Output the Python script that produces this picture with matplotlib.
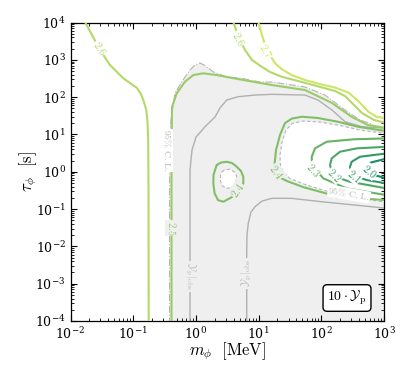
import matplotlib
matplotlib.use("Agg")
import matplotlib.pyplot as plt
import numpy as np
from matplotlib.ticker import LogLocator, NullFormatter

plt.rcParams["mathtext.fontset"] = "cm"
plt.rcParams["font.family"] = "serif"
plt.rcParams["font.serif"] = ["DejaVu Serif"]

# ---- digitised curves, stored as log10(m_phi / MeV), log10(tau_phi / s) ----
# contour 2.6, left branch
c26_left_lx = [-1.78, -1.657, -1.530, -1.370, -1.163, -1.051, -0.939, -0.876, -0.828, -0.791, -0.772,
               -0.761, -0.756, -0.753]
c26_left_ly = [4.05, 3.665, 3.263, 2.861, 2.512, 2.378, 2.244, 2.083, 1.869, 1.654, 1.332,
               0.850, -0.410, -4.1]

# contour 2.6, right branch
c26_right_lx = [0.59, 0.676, 0.783, 0.895, 1.049, 1.182, 1.368, 1.628, 1.900, 2.219, 2.378, 2.490, 2.649, 2.840, 3.05]
c26_right_ly = [4.05, 3.619, 3.263, 2.995, 2.815, 2.673, 2.547, 2.432, 2.311, 2.164, 2.029, 1.842, 1.574, 1.386, 1.30]

# contour 2.7
c27_lx = [0.99, 1.054, 1.129, 1.262, 1.389, 1.528, 1.740, 2.006, 2.219, 2.431, 2.590, 2.750, 2.872, 3.05]
c27_ly = [4.05, 3.665, 3.263, 2.906, 2.727, 2.592, 2.458, 2.338, 2.257, 2.123, 1.895, 1.609, 1.480, 1.42]

# contour 2.5
c25_lx = [-0.389, -0.389, -0.381, -0.306, -0.174, -0.041, 0.118, 0.332, 0.756, 1.214, 1.740, 2.171, 2.490, 2.745, 3.05]
c25_ly = [-4.1, 0.662, 1.734, 2.102, 2.413, 2.592, 2.638, 2.592, 2.458, 2.324, 2.190, 1.842, 1.466, 1.252, 1.165]

# contour 2.4, right branch
c24_lx = [3.05, 2.585, 2.266, 1.947, 1.692, 1.533, 1.421, 1.341, 1.278, 1.254, 1.275, 1.357, 1.453, 1.708, 2.250, 3.05]
c24_ly = [1.085, 1.206, 1.340, 1.440, 1.475, 1.426, 1.306, 0.984, 0.582, 0.180, -0.05, -0.169, -0.249, -0.410, -0.660, -0.765]

# contour 2.4, island
c24_isl_lx = [0.332, 0.400, 0.491, 0.576, 0.651, 0.719, 0.756, 0.756, 0.690, 0.576, 0.437, 0.352, 0.297, 0.278, 0.281, 0.305, 0.332]
c24_isl_ly = [0.180, 0.247, 0.268, 0.233, 0.134, 0.019, -0.134, -0.311, -0.520, -0.678, -0.804, -0.759, -0.571, -0.311, -0.088, 0.046, 0.180]

# contours 2.3 .. 2.0
c23_lx = [3.05, 2.510, 2.086, 1.900, 1.847, 1.852, 1.930, 2.032, 2.405, 3.05]
c23_ly = [0.895, 0.869, 0.804, 0.627, 0.402, 0.233, 0.02, -0.177, -0.445, -0.630]
c22_lx = [3.05, 2.565, 2.298, 2.166, 2.139, 2.170, 2.300, 2.458, 3.05]
c22_ly = [0.670, 0.627, 0.536, 0.359, 0.180, -0.02, -0.180, -0.268, -0.450]
c21_lx = [3.05, 2.617, 2.485, 2.458, 2.480, 2.600, 2.724, 3.05]
c21_ly = [0.493, 0.402, 0.268, 0.134, -0.02, -0.150, -0.223, -0.315]
c20_lx = [3.05, 2.777, 2.724, 2.740, 2.872, 3.05]
c20_ly = [0.359, 0.241, 0.134, 0.0, -0.102, -0.180]

# 95% C.L. excluded region (shaded) and its two allowed holes
cl_lx = [-0.421, -0.421, -0.397, -0.333, -0.206, -0.094, -0.014, 0.065, 0.129, 0.273, 0.496,
         0.703, 1.022, 1.214, 1.740, 2.059, 2.378, 2.617, 2.809, 3.05, 3.05, -0.421]
cl_ly = [-4.1, 0.850, 1.386, 2.110, 2.458, 2.727, 2.861, 2.914, 2.861, 2.681, 2.539,
         2.512, 2.405, 2.405, 2.271, 2.056, 1.654, 1.386, 1.279, 1.215, -4.1, -4.1]

hole_right_lx = [3.05, 2.617, 2.298, 1.979, 1.708, 1.533, 1.437, 1.373, 1.341, 1.349, 1.405,
                 1.501, 1.767, 2.139, 2.537, 3.05]
hole_right_ly = [1.020, 1.118, 1.239, 1.332, 1.359, 1.292, 1.118, 0.796, 0.448, 0.153, -0.035,
                 -0.182, -0.357, -0.544, -0.705, -0.815]

hole_isl_lx = [0.414, 0.464, 0.544, 0.616, 0.651, 0.640, 0.592, 0.504, 0.424, 0.392, 0.392, 0.414]
hole_isl_ly = [0.0, 0.059, 0.064, -0.008, -0.115, -0.276, -0.397, -0.445, -0.383, -0.249, -0.088, 0.0]

# observed Y_p lines
yobs_a_lx = [-0.094, -0.094, -0.062, 0.002, 0.145, 0.305, 0.384, 0.491, 0.671, 0.943, 1.214,
             1.740, 1.947, 2.171, 2.378, 2.649, 3.05]
yobs_a_ly = [-4.1, 0.046, 0.582, 0.930, 1.206, 1.466, 1.708, 1.922, 2.011, 2.056, 2.075,
             2.056, 1.922, 1.654, 1.340, 1.206, 1.165]
yobs_b_lx = [0.810, 0.810, 0.815, 0.836, 0.879, 0.943, 1.054, 1.209, 1.528, 2.006, 2.537, 3.05]
yobs_b_ly = [-4.1, -2.180, -1.697, -1.375, -1.080, -0.938, -0.786, -0.713, -0.713, -0.804, -0.893, -0.980]

# contour labels: (text, lx, ly, rotation, level)
labels = [
    ("2.6", -1.530, 3.316, -58, 2.6),
    ("2.6", 0.687, 3.571, -62, 2.6),
    ("2.7", 1.118, 3.236, -60, 2.7),
    ("2.5", -0.389, -1.509, 270, 2.5),
    ("2.4", 0.656, -0.491, 55, 2.4),
    ("2.4", 1.285, -0.008, -55, 2.4),
    ("2.3", 1.872, 0.046, -50, 2.3),
    ("2.2", 2.218, -0.088, -45, 2.2),
    ("2.1", 2.522, -0.115, -40, 2.1),
    ("2.0", 2.777, 0.019, -40, 2.0),
]

shade = "#efefef"
edge_gray = "#b5b5b5"


def lvl_color(level):
    return plt.cm.summer(level - 2.0 + 0.1)


def pw(a):
    return 10 ** np.asarray(a)


fig = plt.figure(figsize=(4.11, 3.77), dpi=100)
ax = fig.add_axes([70.5 / 411, 56 / 377, 313.5 / 411, 298.5 / 377])

# shaded 95% C.L. region with its holes
ax.fill(pw(cl_lx), pw(cl_ly), color=shade, lw=0, zorder=1)
ax.fill(pw(hole_right_lx), pw(hole_right_ly), color="white", lw=0, zorder=1.1)
ax.fill(pw(hole_isl_lx), pw(hole_isl_ly), color="white", lw=0, zorder=1.1)
ax.plot(pw(cl_lx[:-3]), pw(cl_ly[:-3]), color=edge_gray, lw=0.8, ls="-.", zorder=2)
ax.plot(pw(hole_right_lx), pw(hole_right_ly), color=edge_gray, lw=0.8, ls=(0, (3, 2)), zorder=2)
ax.plot(pw(hole_isl_lx), pw(hole_isl_ly), color=edge_gray, lw=0.8, ls=(0, (3, 2)), zorder=2)

# observed Y_p
ax.plot(pw(yobs_a_lx), pw(yobs_a_ly), color="#b0b0b0", lw=1.0, zorder=2)
ax.plot(pw(yobs_b_lx), pw(yobs_b_ly), color="#b0b0b0", lw=1.0, zorder=2)

# contours
curves = [
    (c26_left_lx, c26_left_ly, 2.6),
    (c26_right_lx, c26_right_ly, 2.6),
    (c27_lx, c27_ly, 2.7),
    (c25_lx, c25_ly, 2.5),
    (c24_lx, c24_ly, 2.4),
    (c24_isl_lx, c24_isl_ly, 2.4),
    (c23_lx, c23_ly, 2.3),
    (c22_lx, c22_ly, 2.2),
    (c21_lx, c21_ly, 2.1),
    (c20_lx, c20_ly, 2.0),
]
for lx, ly, lev in curves:
    ax.plot(pw(lx), pw(ly), color=lvl_color(lev), lw=1.5, zorder=3,
            solid_capstyle="round", solid_joinstyle="round")

for txt, lx, ly, rot, lev in labels:
    inside = shade if lev in (2.5, 2.4) else "white"
    ax.text(10 ** lx, 10 ** ly, f"${txt}$", color=lvl_color(lev), fontsize=7.5, rotation=rot,
            ha="center", va="center", rotation_mode="anchor", zorder=4,
            bbox=dict(boxstyle="square,pad=0.05", fc=inside, ec="none"))

ax.text(10 ** -0.466, 10 ** 0.582, r"$95\%\ \mathrm{C.L.}$", color="#b8b8b8", fontsize=7,
        rotation=270, ha="center", va="center", zorder=4,
        bbox=dict(boxstyle="square,pad=0.05", fc="white", ec="none"))
ax.text(10 ** 2.442, 10 ** -0.598, r"$95\%\ \mathrm{C.L.}$", color="#b8b8b8", fontsize=7,
        rotation=-10, ha="center", va="center", rotation_mode="anchor", zorder=4,
        bbox=dict(boxstyle="square,pad=0.05", fc="white", ec="none"))
ax.text(10 ** -0.094, 10 ** -2.799, r"$\mathcal{Y}_\mathrm{p}|_\mathrm{obs}$", color="#b8b8b8",
        fontsize=7.5, rotation=270, ha="center", va="center", zorder=4,
        bbox=dict(boxstyle="square,pad=0.15", fc=shade, ec="none"))
ax.text(10 ** 0.810, 10 ** -2.716, r"$\mathcal{Y}_\mathrm{p}|_\mathrm{obs}$", color="#b8b8b8",
        fontsize=7.5, rotation=90, ha="center", va="center", zorder=4,
        bbox=dict(boxstyle="square,pad=0.15", fc=shade, ec="none"))

ax.text(0.882, 0.077, r"$10\cdot\mathcal{Y}_\mathrm{p}$", transform=ax.transAxes, fontsize=10,
        ha="center", va="center", zorder=5,
        bbox=dict(boxstyle="round,pad=0.3", fc="white", ec="black", lw=1.0))

ax.set_xscale("log")
ax.set_yscale("log")
ax.set_xlim(1e-2, 1e3)
ax.set_ylim(1e-4, 1e4)
ax.xaxis.set_major_locator(LogLocator(base=10, numticks=20))
ax.yaxis.set_major_locator(LogLocator(base=10, numticks=20))
ax.xaxis.set_minor_locator(LogLocator(base=10, subs=np.arange(2, 10), numticks=50))
ax.yaxis.set_minor_locator(LogLocator(base=10, subs=np.arange(2, 10), numticks=50))
ax.xaxis.set_minor_formatter(NullFormatter())
ax.yaxis.set_minor_formatter(NullFormatter())
ax.tick_params(which="both", direction="in", top=True, right=True, labelsize=9)
ax.tick_params(which="major", length=4, width=0.8)
ax.tick_params(which="minor", length=2, width=0.6)
for sp in ax.spines.values():
    sp.set_linewidth(0.9)

ax.set_xlabel(r"$m_\phi\ \ [\mathrm{MeV}]$", fontsize=12)
ax.set_ylabel(r"$\tau_\phi\ \ [\mathrm{s}]$", fontsize=12)
ax.xaxis.set_label_coords(0.5, -0.065)
ax.yaxis.set_label_coords(-0.10, 0.5)

fig.savefig("out.png", dpi=100)
